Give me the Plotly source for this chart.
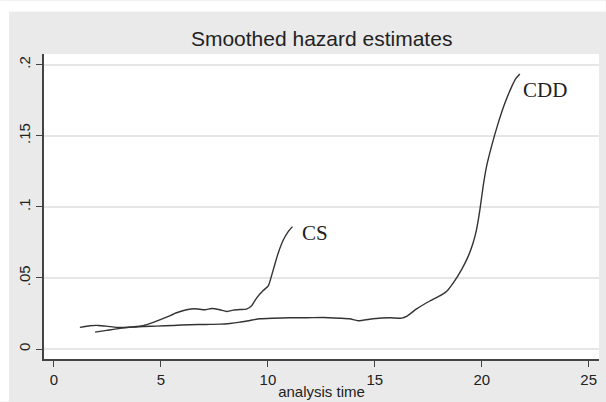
import plotly.graph_objects as go

# ---- data ----
cs_time = [1.21, 1.68, 2.07, 2.46, 2.93, 3.40, 3.86, 4.17, 4.64, 5.26, 5.73, 6.20, 6.59, 7.06,
           7.37, 7.76, 8.07, 8.38, 8.69, 9.00, 9.24, 9.47, 9.78, 10.02, 10.25, 10.48, 10.72,
           10.95, 11.15]
cs_hazard = [.0152, .0164, .0166, .0161, .0152, .0154, .0159, .0164, .0187, .0224, .0255, .0276,
             .0283, .0276, .0285, .0276, .0264, .0274, .0278, .0281, .0304, .0358, .0411, .0444,
             .0557, .0674, .0767, .0826, .0861]

cdd_time = [1.92, 2.46, 3.08, 3.71, 4.17, 4.80, 5.58, 6.36, 7.13, 7.76, 8.22, 8.69, 9.16, 9.63,
            10.25, 11.03, 11.81, 12.59, 13.36, 13.83, 14.22, 14.92, 15.70, 16.25, 16.48, 16.95,
            17.57, 18.12, 18.35, 18.66, 19.05, 19.36, 19.59, 19.75, 19.91, 20.06, 20.22, 20.45,
            20.76, 21.07, 21.39, 21.59, 21.78]
cdd_hazard = [.0119, .0131, .0145, .0154, .0159, .0161, .0166, .0171, .0173, .0175, .0180, .0189,
              .0201, .0213, .0217, .0220, .0220, .0222, .0217, .0213, .0199, .0213, .0220, .0217,
              .0229, .0282, .0338, .0381, .0404, .0463, .0557, .0650, .0744, .0837, .0977, .1141,
              .1282, .1422, .1586, .1726, .1843, .1902, .1935]

x_ticks = [0, 5, 10, 15, 20, 25]
x_ticklabels = ["0", "5", "10", "15", "20", "25"]
y_ticks = [0, 0.05, 0.1, 0.15, 0.2]
y_ticklabels = ["0", ".05", ".1", ".15", ".2"]

series_labels = ["CS", "CDD"]
label_pos = [(11.50, 0.0816), (21.84, 0.1823)]

title_text = "Smoothed hazard estimates"
x_title = "analysis time"

# ---- layout geometry ----
W, H = 606, 402
L, R, T, B = 44, 599.3, 53.5, 359.3
GREY = "#EAEAEA"
LINE = "#333333"
TXT = "#222222"

fig = go.Figure()
for t, h in [(cs_time, cs_hazard), (cdd_time, cdd_hazard)]:
    fig.add_trace(go.Scatter(x=t, y=h, mode="lines",
                             line=dict(color=LINE, width=1.4, shape="spline", smoothing=0.5),
                             showlegend=False, hoverinfo="skip"))

for txt, (xx, yy) in zip(series_labels, label_pos):
    fig.add_annotation(x=xx, y=yy, text=txt, showarrow=False, xanchor="left", yanchor="middle",
                       font=dict(family="Liberation Serif", size=21, color=TXT))

pw, ph = R - L, B - T
def px_x(p):
    return (p - L) / pw
def px_y(p):
    return (B - p) / ph

# white outer border (top and left)
fig.add_shape(type="rect", xref="paper", yref="paper", x0=px_x(0), x1=px_x(W),
              y0=px_y(11), y1=px_y(0), fillcolor="white", line_width=0, layer="above")
fig.add_shape(type="rect", xref="paper", yref="paper", x0=px_x(0), x1=px_x(9),
              y0=px_y(H), y1=px_y(0), fillcolor="white", line_width=0, layer="above")

fig.update_layout(
    width=W, height=H,
    margin=dict(l=L, r=W - R, t=T, b=H - B, pad=0, autoexpand=False),
    paper_bgcolor=GREY, plot_bgcolor="white",
    title=dict(text=title_text, x=((L + R) / 2) / W, xanchor="center",
               y=1 - 39 / H, yanchor="middle",
               font=dict(family="Liberation Sans", size=21, color=TXT)),
    font=dict(family="Liberation Sans", color=TXT),
)

fig.update_xaxes(range=[-(54 - L) / 21.4, -(54 - L) / 21.4 + pw / 21.4],
                 tickvals=x_ticks, ticktext=x_ticklabels, showgrid=False, zeroline=False,
                 showline=True, linecolor="#444444", linewidth=1.5, mirror=False,
                 ticks="outside", ticklen=6, tickwidth=1.3, tickcolor="#444444",
                 tickfont=dict(size=15, color=TXT), automargin=False,
                 title=dict(text=x_title, font=dict(size=15, color=TXT), standoff=0))

fig.update_yaxes(range=[-(B - 349.3) / 1425, -(B - 349.3) / 1425 + ph / 1425],
                 tickvals=y_ticks, ticktext=y_ticklabels, tickangle=-90,
                 showgrid=True, gridcolor="#E6E6E6", gridwidth=1.6, zeroline=False,
                 showline=True, linecolor="#444444", linewidth=1.5, automargin=False,
                 ticks="outside", ticklen=6, tickwidth=1.3, tickcolor="#444444",
                 tickfont=dict(size=15, color=TXT))

fig.write_html("out.html", config={"displayModeBar": False},
               post_script="document.body.style.margin='0';document.body.style.overflow='hidden';")
